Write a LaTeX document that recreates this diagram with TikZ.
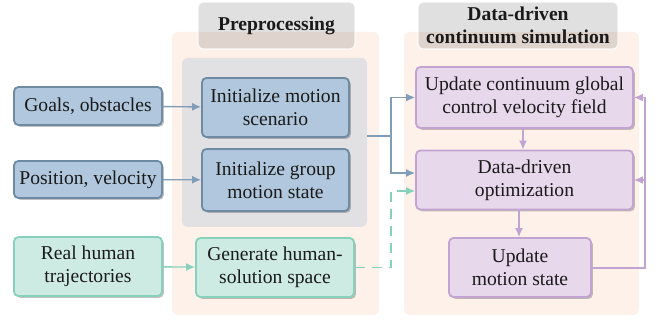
\documentclass[tikz,border=0pt]{standalone}
\usepackage{fontspec}
\setmainfont{Liberation Serif}
\usetikzlibrary{shadows,arrows.meta,calc}

\definecolor{bluefill}{HTML}{B0C7DD}
\definecolor{blueline}{HTML}{6F8AA3}
\definecolor{bluearrow}{HTML}{7F9DB6}
\definecolor{purpfill}{HTML}{E8D8EC}
\definecolor{purpline}{HTML}{C3A3D1}
\definecolor{tealfill}{HTML}{CDEBE2}
\definecolor{tealline}{HTML}{86D1BB}
\definecolor{peach}{HTML}{FDF1EA}
\definecolor{panelgray}{HTML}{E1E1E3}
\definecolor{ink}{HTML}{1A1A1A}

\tikzset{
  boxbase/.style={rounded corners=2.2pt, line width=0.9pt, align=center,
    inner sep=0pt, text=ink, font=\fontsize{9.8}{11.5}\selectfont,
    drop shadow={shadow xshift=0.9pt, shadow yshift=-0.9pt, opacity=0.35, fill=black!70}},
  bluebox/.style={boxbase, draw=blueline, fill=bluefill},
  purpbox/.style={boxbase, draw=purpline, fill=purpfill},
  tealbox/.style={boxbase, draw=tealline, fill=tealfill},
  header/.style={rounded corners=2.5pt, fill=black, fill opacity=0.12, text opacity=1,
    draw=white, draw opacity=0.8, line width=0.6pt, align=center, inner sep=0pt, text=ink,
    font=\fontsize{9.8}{11.5}\selectfont\bfseries},
  panel/.style={rounded corners=3pt, fill=peach, draw=none},
  blueflow/.style={draw=bluearrow, line width=0.7pt, -{Latex[length=4.5pt,width=4pt]}},
  purpflow/.style={draw=purpline, line width=0.7pt, -{Latex[length=4.5pt,width=4pt]}},
  tealflow/.style={draw=tealline, line width=0.7pt, -{Latex[length=4.5pt,width=4pt]}},
}

\begin{document}
\begin{tikzpicture}[x=0.5pt, y=-0.5pt]
\useasboundingbox (0,0) rectangle (659,320);

% stage panels
\fill[panel] (172,32) rectangle (379,315);
\fill[panel] (404,32) rectangle (639,315);
\node[fill=panelgray, rounded corners=3pt, draw=none, inner sep=0pt,
      minimum width=92.5pt, minimum height=84.5pt] (grp) at (274.5,142.5) {};

% stage headers
\node[header, minimum width=78.5pt, minimum height=23.5pt] (hprep) at (276.5,25.5) {Preprocessing};
\node[header, minimum width=100pt, minimum height=23.5pt] (hsim) at (518,25.5) {Data-driven\\continuum simulation};

% inputs
\node[bluebox, minimum width=74pt, minimum height=19pt] (goals) at (88,106) {Goals, obstacles};
\node[bluebox, minimum width=74pt, minimum height=18.5pt] (pos) at (88,179.5) {Position, velocity};
\node[tealbox, minimum width=74pt, minimum height=29.5pt] (real) at (88,266.5) {Real human\\trajectories};

% preprocessing steps
\node[bluebox, minimum width=73.5pt, minimum height=29.5pt] (initm) at (275.5,107.5) {Initialize motion\\scenario};
\node[bluebox, minimum width=73.5pt, minimum height=31pt] (initg) at (275.5,180) {Initialize group\\motion state};
\node[tealbox, minimum width=79pt, minimum height=29.5pt] (gen) at (275,267.5) {Generate human-\\solution space};

% simulation steps
\node[purpbox, minimum width=108.5pt, minimum height=30.5pt] (upd) at (524.5,97.5) {Update continuum global\\control velocity field};
\node[purpbox, minimum width=108.5pt, minimum height=29.5pt] (opt) at (524.5,180) {Data-driven\\optimization};
\node[purpbox, minimum width=71pt, minimum height=29.5pt] (ums) at (520,267.5) {Update\\motion state};

% connectors
\draw[blueflow] (goals) -- (initm);
\draw[blueflow] (pos) -- (initg);
\draw[tealflow] (real) -- (gen);

\coordinate (j) at (391,136);
\draw[draw=bluearrow, line width=0.7pt] (grp.east |- j) -- (j);
\draw[blueflow] (j) |- (upd.west);
\draw[blueflow] (j) |- ($(opt.west)+(0,-7)$);
\draw[tealflow, dash pattern=on 5pt off 3.5pt] (gen.east) -| (j |- gen.east) |- ($(opt.west)+(0,11)$);

\draw[purpflow] (upd.south -| 523,0) -- (opt.north -| 523,0);
\draw[purpflow] (opt.south -| 519,0) -- (ums.north -| 519,0);
\coordinate (r) at (645,268);
\draw[purpflow] (ums.east |- r) -- (r) |- (upd.east);
\draw[purpflow] (r |- opt.east) -- (opt.east);
\end{tikzpicture}
\end{document}
